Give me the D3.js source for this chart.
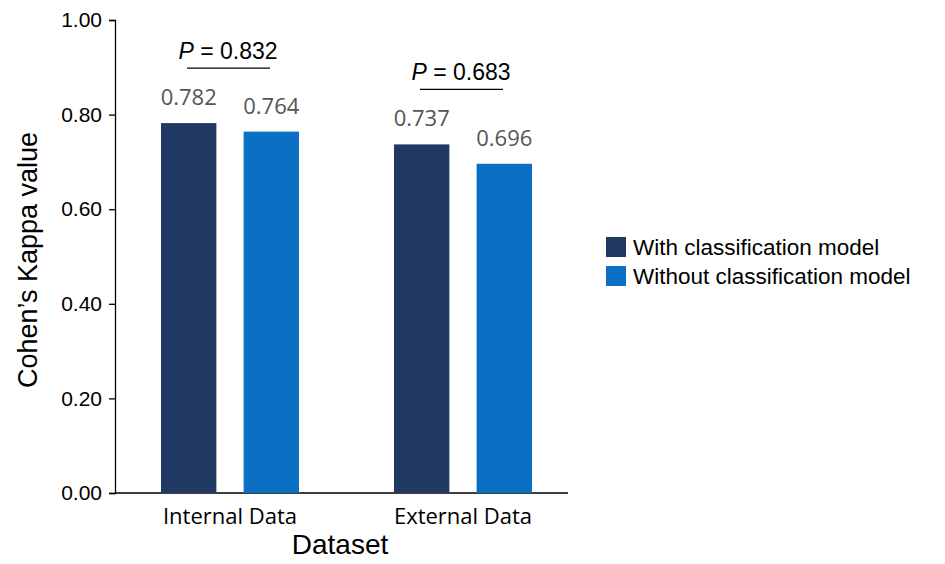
<!DOCTYPE html><html><head><meta charset="utf-8">
<script src="https://cdn.jsdelivr.net/npm/d3@7"></script>
<style>body{margin:0;background:#fff}</style></head><body>
<svg id="c" width="945" height="564"></svg>
<script>
const categories=["Internal Data","External Data"];
const seriesNames=["With classification model","Without classification model"];
const withModel=[0.782,0.737];
const withoutModel=[0.764,0.696];
const pValues=["0.832","0.683"];
const yTicks=[0,0.2,0.4,0.6,0.8,1.0];
const colors=["#1f3864","#0b70c4"];

const svg=d3.select("#c");
const y=d3.scaleLinear().domain([0,1]).range([493,20]);
const centers={"Internal Data":230,"External Data":463};
const sub=d3.scaleBand().domain([0,1]).range([-69,69]).paddingInner(0.33).paddingOuter(0.0);

const yAxis=d3.axisLeft(y).tickValues(yTicks).tickFormat(d3.format(".2f")).tickSize(6);
const gy=svg.append("g").attr("transform","translate(115,0)").call(yAxis);
gy.selectAll("text").attr("font-family","Liberation Sans, Arial").attr("font-size",21).attr("fill","#000").attr("dx","-4");
gy.selectAll("line,path").attr("stroke","#000").attr("stroke-width",1.3);
svg.append("line").attr("x1",115).attr("x2",568).attr("y1",y(0)).attr("y2",y(0)).attr("stroke","#000").attr("stroke-width",1.3);

categories.forEach((c,i)=>{
  const vals=[withModel[i],withoutModel[i]];
  vals.forEach((v,j)=>{
    const bx=centers[c]+sub(j);
    svg.append("rect").attr("x",bx).attr("y",y(v)).attr("width",sub.bandwidth()).attr("height",y(0)-y(v)).attr("fill",colors[j]);
    svg.append("text").attr("x",bx+sub.bandwidth()/2).attr("y",y(v)-18).attr("text-anchor","middle")
      .attr("font-family","Open Sans").attr("font-size",22).attr("fill","#555").text(v.toFixed(3));
  });
  svg.append("text").attr("x",centers[c]).attr("y",524).attr("text-anchor","middle")
    .attr("font-family","Open Sans").attr("font-size",22).attr("fill","#000").text(c);
  const top=y(Math.max(...vals));
  const ly=top-55;
  svg.append("line").attr("x1",centers[c]-43).attr("x2",centers[c]+40).attr("y1",ly).attr("y2",ly).attr("stroke","#000").attr("stroke-width",1.3);
  const t=svg.append("text").attr("x",centers[c]-2).attr("y",ly-9).attr("text-anchor","middle")
    .attr("font-family","Liberation Sans, Arial").attr("font-size",23).attr("fill","#000");
  t.append("tspan").attr("font-style","italic").text("P");
  t.append("tspan").text(" = "+pValues[i]);
});

svg.append("text").attr("transform","translate(37,260) rotate(-90)").attr("text-anchor","middle")
  .attr("font-family","Liberation Sans, Arial").attr("font-size",27).text("Cohen’s Kappa value");
svg.append("text").attr("x",340).attr("y",554).attr("text-anchor","middle")
  .attr("font-family","Liberation Sans, Arial").attr("font-size",28).text("Dataset");

seriesNames.forEach((s,i)=>{
  svg.append("rect").attr("x",606).attr("y",237+i*29).attr("width",20).attr("height",20).attr("fill",colors[i]);
  svg.append("text").attr("x",633).attr("y",255+i*29).attr("font-family","Liberation Sans, Arial").attr("font-size",22.5).text(s);
});
</script></body></html>
